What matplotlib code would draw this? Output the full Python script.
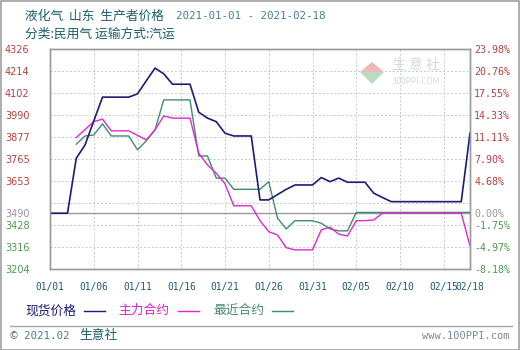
import numpy as np
import matplotlib
matplotlib.use("Agg")
import matplotlib.pyplot as plt
from matplotlib.patches import Rectangle, Polygon
from matplotlib.lines import Line2D

plt.rcParams['font.family'] = ['Noto Sans CJK SC', 'DejaVu Sans']

# ---------------- data ----------------
title_cn = "液化气  山东  生产者价格"
title_dates = "2021-01-01 - 2021-02-18"
subtitle = "分类:民用气 运输方式:汽运"
series_names = ["现货价格", "主力合约", "最近合约"]

days = list(range(49))  # 2021-01-01 .. 2021-02-18
x_tick_pos = [0, 5, 10, 15, 20, 25, 30, 35, 40, 45, 48]
x_tick_labels = ["01/01", "01/06", "01/11", "01/16", "01/21", "01/26",
                 "01/31", "02/05", "02/10", "02/15", "02/18"]

nan = np.nan
spot = [3490, 3490, 3490, 3770, 3838, 3960, 4082, 4082, 4082, 4082,
        4099, 4165, 4230, 4201, 4148, 4148, 4148, 4005, 3975, 3957,
        3898, 3884, 3884, 3884, 3558, 3558, 3585, 3612, 3634, 3634,
        3634, 3672, 3651, 3669, 3648, 3648, 3648, 3592, 3570, 3549,
        3549, 3549, 3549, 3549, 3549, 3549, 3549, 3549, 3898]
main_contract = [nan, nan, nan, 3876, 3917, 3957, 3970, 3910, 3910, 3910,
                 3887, 3864, 3915, 3986, 3975, 3975, 3975, 3796, 3736, 3694,
                 3640, 3528, 3528, 3528, 3452, 3396, 3379, 3314, 3303, 3303,
                 3303, 3405, 3419, 3383, 3374, 3452, 3452, 3456, 3490, 3490,
                 3490, 3490, 3490, 3490, 3490, 3490, 3490, 3490, 3323]
near_contract = [nan, nan, nan, 3842, 3884, 3889, 3946, 3884, 3884, 3884,
                 3813, 3859, 3915, 4068, 4068, 4068, 4068, 3782, 3782, 3669,
                 3669, 3612, 3612, 3612, 3612, 3651, 3465, 3410, 3452, 3452,
                 3452, 3439, 3410, 3400, 3400, 3494, 3494, 3494, 3494, 3494,
                 3494, 3494, 3494, 3494, 3494, 3494, 3494, 3494, 3494]

base_value = 3490
y_min, y_max = 3204, 4326
left_ticks = [4326, 4214, 4102, 3990, 3877, 3765, 3653, 3490, 3428, 3316, 3204]
left_labels = ["4326", "4214", "4102", "3990", "3877", "3765", "3653",
               "3490", "3428", "3316", "3204"]
right_labels = ["23.98%", "20.76%", "17.55%", "14.33%", "11.11%", "7.90%",
                "4.68%", "0.00%", "-1.75%", "-4.97%", "-8.18%"]

# ---------------- style ----------------
c_spot = "#1c1c78"
c_main = "#dc2ad2"
c_near = "#3f8c6e"
c_up = "#b84040"
c_down = "#4c9a50"
c_base = "#999999"
c_title = "#1d5d74"
c_grid = "#c8c8c8"

W, H = 520, 350
fig = plt.figure(figsize=(W / 100, H / 100), dpi=100)
fig.patch.set_facecolor("white")

L, R, T, B = 50, 470, 49.3, 269.3
ax = fig.add_axes([L / W, 1 - B / H, (R - L) / W, (B - T) / H])

# outer border + footer separator
fig.add_artist(Rectangle((0.5 / W, 0.5 / H), (W - 1.5) / W, (H - 1.5) / H,
                         transform=fig.transFigure, fill=False,
                         edgecolor="#a0a0a0", lw=1.2))
fig.add_artist(Line2D([10 / W, 512 / W], [1 - 326 / H, 1 - 326 / H],
                      transform=fig.transFigure, color="#a8a8a8", lw=1.0))

# grid
for gv in np.linspace(y_min, y_max, 11)[1:-1]:
    ax.axhline(gv, color=c_grid, lw=0.7, ls=(0, (2, 2)), zorder=0)
ax.axhline(base_value, color=c_base, lw=1.0, zorder=1)

ax.plot(days, near_contract, color=c_near, lw=1.0, zorder=3)
ax.plot(days, main_contract, color=c_main, lw=1.0, zorder=4)
ax.plot(days, spot, color=c_spot, lw=1.2, zorder=5)

ax.set_xlim(0, 48)
ax.set_ylim(y_min, y_max)
ax.set_xticks(x_tick_pos, x_tick_labels, fontfamily="DejaVu Sans Mono",
              fontsize=6.9, color=c_title)
ax.xaxis.grid(True, color=c_grid, lw=0.7, ls=(0, (2, 2)))
ax.set_axisbelow(True)
ax.tick_params(axis="x", length=0, pad=9)

ax.set_yticks(left_ticks, left_labels, fontfamily="DejaVu Sans", fontsize=7)
ax.tick_params(axis="y", length=0, pad=32.5)
for lbl, v in zip(ax.get_yticklabels(), left_ticks):
    lbl.set_ha("left")
    lbl.set_color(c_up if v > base_value else (c_base if v == base_value else c_down))

ax2 = ax.twinx()
ax2.set_ylim(y_min, y_max)
ax2.set_yticks(left_ticks, right_labels, fontfamily="DejaVu Sans Mono", fontsize=7.2)
ax2.tick_params(axis="y", length=0, pad=3)
for lbl, v in zip(ax2.get_yticklabels(), left_ticks):
    lbl.set_color(c_up if v > base_value else (c_base if v == base_value else c_down))

for a in (ax, ax2):
    for s in a.spines.values():
        s.set_color("#9a9a9a")
        s.set_linewidth(1.0)

# titles
fig.text(25 / W, 1 - 16 / H, title_cn, fontsize=9.2, color=c_title, va="center")
fig.text(176 / W, 1 - 16 / H, title_dates, fontsize=7.8, color="#4a7c96",
         fontfamily="DejaVu Sans Mono", va="center")
fig.text(25 / W, 1 - 34 / H, subtitle, fontsize=9.2, color=c_title, va="center")

# watermark
cx, cy = 372, 72
fig.add_artist(Polygon([[(cx - 12) / W, 1 - cy / H], [cx / W, 1 - (cy - 10) / H],
                        [(cx + 12) / W, 1 - cy / H]], closed=True,
                       transform=fig.transFigure, facecolor="#f0b8b8", edgecolor="none"))
fig.add_artist(Polygon([[(cx - 12) / W, 1 - cy / H], [cx / W, 1 - (cy + 12) / H],
                        [(cx + 12) / W, 1 - cy / H]], closed=True,
                       transform=fig.transFigure, facecolor="#b8dcc0", edgecolor="none"))
fig.text(392 / W, 1 - 65 / H, "生 意 社", fontsize=10, color="#d4dae0", va="center")
fig.text(392 / W, 1 - 81 / H, "100PPI.COM", fontsize=6, color="#d4dae0", va="center")

# legend
leg_y = 1 - 310.7 / H
leg_items = [(25, 84, 105, c_spot, "#1a1a70"),
             (118, 178, 199, c_main, "#dd22cc"),
             (213, 272, 293, c_near, "#4a8a6a")]
for name, (tx, lx0, lx1, lc, tc) in zip(series_names, leg_items):
    fig.text(tx / W, leg_y, name, fontsize=9.2, color=tc, va="center")
    fig.add_artist(Line2D([lx0 / W, lx1 / W], [leg_y, leg_y],
                          transform=fig.transFigure, color=lc, lw=1.0))

# footer
fig.text(10 / W, 1 - 336 / H, "©", fontsize=7, color="#556", va="center")
fig.text(24 / W, 1 - 336 / H, "2021.02 ", fontsize=7.8, color="#4a7c96",
         fontfamily="DejaVu Sans Mono", va="center")
fig.text(79 / W, 1 - 336 / H, "生意社", fontsize=9.2, color=c_title, va="center")
fig.text(510 / W, 1 - 336 / H, "www.100PPI.com", fontsize=7.5, color="#7a8a9a",
         fontfamily="DejaVu Sans Mono", va="center", ha="right")

fig.savefig("out.png", dpi=100)
